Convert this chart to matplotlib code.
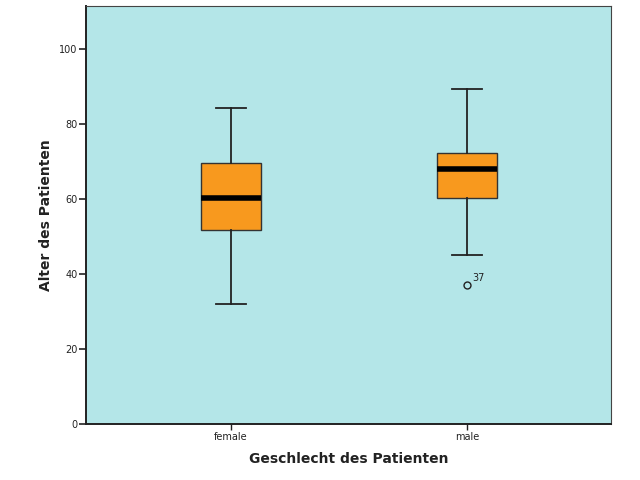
import matplotlib.pyplot as plt

groups = ["female", "male"]
whislo = [32, 45]
q1 = [51.7, 60.2]
med = [60.2, 68.1]
q3 = [69.7, 72.2]
whishi = [84.3, 89.3]
fliers = [[], [37]]
flier_ids = [[], ["37"]]

bg = "#b4e6e8"
orange = "#f8991e"

stats = []
for i, g in enumerate(groups):
    stats.append(dict(label=g, whislo=whislo[i], q1=q1[i], med=med[i],
                      q3=q3[i], whishi=whishi[i], fliers=fliers[i]))

fig = plt.figure(figsize=(6.4, 4.8), dpi=100, facecolor="white")
ax = fig.add_axes([0.134, 0.1167, 0.821, 0.8708], facecolor=bg)

positions = [1, 2]
ax.bxp(stats, positions=positions, widths=0.254, patch_artist=True,
       boxprops=dict(facecolor=orange, edgecolor="#333333", linewidth=1.0),
       medianprops=dict(color="black", linewidth=4, solid_capstyle="butt"),
       whiskerprops=dict(color="#222222", linewidth=1.3),
       capprops=dict(color="#222222", linewidth=1.3),
       capwidths=0.125,
       flierprops=dict(marker="o", markersize=5, markerfacecolor="none",
                       markeredgecolor="#222222", markeredgewidth=1.0))

for i, pos in enumerate(positions):
    for v, lab in zip(fliers[i], flier_ids[i]):
        ax.annotate(lab, (pos, v), xytext=(4, 3), textcoords="offset points",
                    fontsize=7, color="#222222")

ax.set_xlim(0.386, 2.61)
ax.set_ylim(0, 111.5)
ax.set_yticks([0, 20, 40, 60, 80, 100])
ax.tick_params(axis="y", direction="out", length=5, width=1.2, labelsize=7,
               colors="#222222", pad=1)
ax.tick_params(axis="x", direction="out", length=4, width=1, labelsize=7,
               colors="#222222", pad=2)
ax.set_xticks(positions)
ax.set_xticklabels(groups)

for s in ["left", "bottom"]:
    ax.spines[s].set_linewidth(1.4)
    ax.spines[s].set_color("#222222")
for s in ["top", "right"]:
    ax.spines[s].set_linewidth(0.8)
    ax.spines[s].set_color("#444444")

ax.set_xlabel("Geschlecht des Patienten", fontsize=10, fontweight="bold",
              color="#222222", labelpad=7)
ax.set_ylabel("Alter des Patienten", fontsize=10, fontweight="bold",
              color="#222222", labelpad=4)

fig.savefig("out.png", dpi=100)
